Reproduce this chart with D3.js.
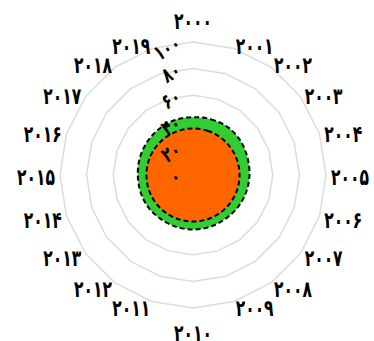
<!DOCTYPE html>
<html>
<head>
<meta charset="utf-8">
<script src="https://cdn.jsdelivr.net/npm/d3@7"></script>
<style>
  body { margin: 0; background: #fff; }
  text { font-family: "DejaVu Sans", sans-serif; font-weight: bold; fill: #000; }
</style>
</head>
<body>
<div id="chart"></div>
<script>
var years = ["۲۰۰۰","۲۰۰۱","۲۰۰۲","۲۰۰۳","۲۰۰۴","۲۰۰۵","۲۰۰۶","۲۰۰۷","۲۰۰۸","۲۰۰۹",
             "۲۰۱۰","۲۰۱۱","۲۰۱۲","۲۰۱۳","۲۰۱۴","۲۰۱۵","۲۰۱۶","۲۰۱۷","۲۰۱۸","۲۰۱۹"];
var greenValues  = [43.5, 44, 44.5, 44, 43, 42.5, 42, 41.5, 41, 41, 41, 41, 41, 41.5, 41.5, 41.5, 42, 42.5, 43, 43.5];
var orangeValues = [35, 35, 35, 35, 35, 35, 35, 35, 35, 35, 35, 35, 35, 35, 35, 35, 35, 35, 35, 35];
var tickValues = [0, 20, 40, 60, 80, 100];
var tickLabels = ["۰", "۲۰", "۴۰", "۶۰", "۸۰", "۱۰۰"];

var W = 374, H = 341, cx = 193, cy = 175;

var svg = d3.select("#chart").append("svg")
	.attr("width", W)
	.attr("height", H);

var r = d3.scaleLinear().domain([0, 100]).range([0, 133]);
var angle = d3.scaleLinear().domain([0, years.length]).range([0, 2 * Math.PI]);

var g = svg.append("g").attr("transform", "translate(" + cx + "," + cy + ")");

// grid rings (polygons)
g.selectAll("polygon.ring")
	.data(tickValues.slice(1))
	.enter().append("polygon")
	.attr("class", "ring")
	.attr("points", function(v) {
		return years.map(function(y, i) {
			return [r(v) * Math.sin(angle(i)), -r(v) * Math.cos(angle(i))].join(",");
		}).join(" ");
	})
	.style("fill", "none")
	.style("stroke", "#dcdcdc")
	.style("stroke-width", 1.5);

var line = d3.lineRadial()
	.angle(function(d, i) { return angle(i); })
	.radius(function(d) { return r(d); })
	.curve(d3.curveCatmullRomClosed);

[[greenValues, "#32cd32"], [orangeValues, "#ff6600"]].forEach(function(s) {
	g.append("path")
		.datum(s[0])
		.attr("d", line)
		.style("fill", s[1])
		.style("stroke", "#000")
		.style("stroke-width", 2)
		.style("stroke-dasharray", "5,3");
});

// year labels (narrow, tall digits: squeeze horizontally)
g.selectAll("text.year")
	.data(years)
	.enter().append("text")
	.attr("class", "year")
	.style("font-size", "23px")
	.attr("text-anchor", function(d, i) {
		var s = Math.sin(angle(i));
		if (Math.abs(s) < 0.01) return "middle";
		return s > 0 ? "start" : "end";
	})
	.attr("dy", "0.3em")
	.text(function(d) { return d; })
	.attr("transform", function(d, i) {
		var s = Math.sin(angle(i)), c = Math.cos(angle(i));
		var x = Math.abs(s) < 0.01 ? 0 : s * (r(100) + 5);
		var y = Math.abs(s) < 0.01 ? -c * (r(100) + 23) + 3 : -c * (r(100) + 5) + 3;
		var k = 38 / this.getComputedTextLength();
		return "translate(" + x + "," + y + ") scale(" + k + ",1)";
	});

// radial tick labels
g.selectAll("text.tick")
	.data(tickValues)
	.enter().append("text")
	.attr("class", "tick")
	.style("font-size", "21px")
	.attr("text-anchor", "end")
	.attr("x", 4)
	.attr("y", 6)
	.text(function(v, i) { return tickLabels[i]; })
	.attr("transform", function(v, i) {
		var k = tickLabels[i].length * 9 / this.getComputedTextLength();
		return "translate(-16," + (-r(v) + 2) + ") rotate(-30) scale(" + k + ",1)";
	});
</script>
</body>
</html>
